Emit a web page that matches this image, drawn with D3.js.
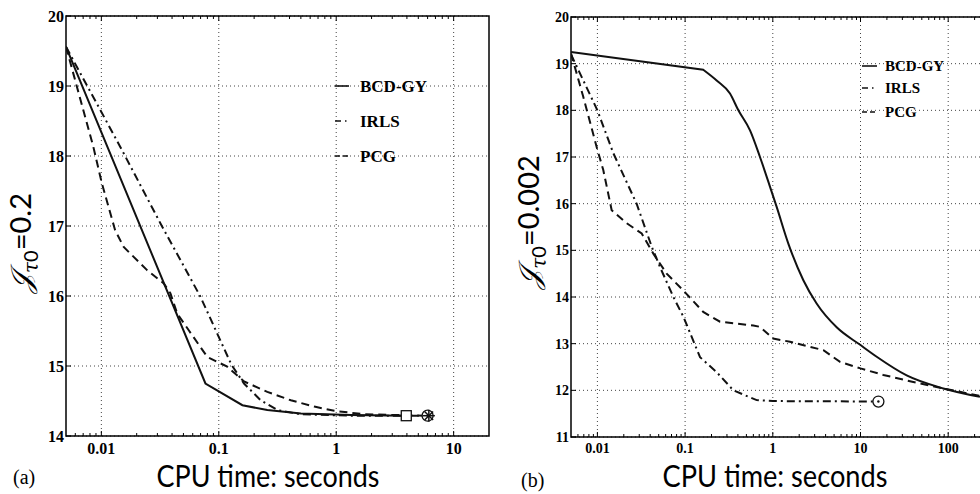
<!DOCTYPE html>
<html>
<head>
<meta charset="utf-8">
<script src="https://cdn.jsdelivr.net/npm/d3@7"></script>
<style>
  body { margin: 0; background: #fff; }
  svg { display: block; }
</style>
</head>
<body>
<div id="chart"></div>
<script>
// series names used in both panels
var seriesNames = ["BCD-GY", "IRLS", "PCG"];

// panel (a): tau0 = 0.2
var aBcdT  = [0.005, 0.077, 0.159, 0.259, 0.5, 1.34, 3.95];
var aBcdJ  = [19.56, 14.75, 14.44, 14.37, 14.32, 14.30, 14.29];
var aIrlsT = [0.005, 0.0145, 0.0318, 0.0698, 0.128, 0.164, 0.2275, 0.316, 0.5, 1.34, 6.0];
var aIrlsJ = [19.56, 18.13, 17.04, 15.99, 15.02, 14.75, 14.51, 14.37, 14.31, 14.29, 14.29];
var aPcgT  = [0.005, 0.00855, 0.0101, 0.0131, 0.0155, 0.0245, 0.034, 0.0387, 0.0442, 0.0555,
              0.0798, 0.118, 0.164, 0.259, 0.411, 0.65, 0.964, 1.74, 6.05];
var aPcgJ  = [19.56, 18.13, 17.61, 16.94, 16.70, 16.37, 16.18, 16.04, 15.75, 15.51,
              15.13, 14.99, 14.78, 14.63, 14.51, 14.42, 14.36, 14.31, 14.29];

// panel (b): tau0 = 0.002
var bBcdT  = [0.005, 0.161, 0.229, 0.325, 0.405, 0.55, 0.714, 0.93, 1.107, 1.5, 2.23, 3.16,
              5.35, 10, 15.3, 33.6, 87.9, 230];
var bBcdJ  = [19.25, 18.87, 18.64, 18.36, 18.0, 17.57, 17.0, 16.36, 15.93, 15.15, 14.36, 13.86,
              13.35, 12.97, 12.72, 12.32, 12.04, 11.86];
var bIrlsT = [0.005, 0.01, 0.0152, 0.028, 0.0416, 0.0518, 0.0735, 0.0955, 0.148, 0.229, 0.355,
              0.655, 1, 16];
var bIrlsJ = [19.2, 18.0, 17.08, 16.0, 15.08, 14.64, 14.0, 13.58, 12.71, 12.39, 12.0,
              11.79, 11.77, 11.76];
var bPcgT  = [0.005, 0.0069, 0.00982, 0.01167, 0.01455, 0.0216, 0.032, 0.0434, 0.0617, 0.0953,
              0.161, 0.25, 0.6, 0.714, 1.01, 1.57, 3.78, 5.84, 10, 18.2, 40, 88, 230];
var bPcgJ  = [19.22, 18.29, 17.21, 16.72, 15.86, 15.58, 15.36, 14.93, 14.50, 14.14,
              13.68, 13.47, 13.39, 13.36, 13.11, 13.04, 12.86, 12.61, 12.47, 12.33, 12.18, 12.04, 11.88];

// end markers [time, value]
var aMarkSquare = [3.95, 14.29];
var aMarkCircle = [6.0, 14.29];
var aMarkStar   = [6.15, 14.29];
var bMarkCircle = [16, 11.76];

// ticks
var aXTicks = [0.01, 0.1, 1, 10];
var bXTicks = [0.01, 0.1, 1, 10, 100];
var aYTicks = [14, 15, 16, 17, 18, 19, 20];
var bYTicks = [11, 12, 13, 14, 15, 16, 17, 18, 19, 20];

var W = 980, H = 494;
var svg = d3.select("#chart").append("svg").attr("width", W).attr("height", H);

var dashes = { "BCD-GY": null, "IRLS": "8,4,2,4", "PCG": "8,5" };

function drawPanel(cfg) {
  var g = svg.append("g");
  var x = d3.scaleLog().domain(cfg.xDomain).range([cfg.left, cfg.right]);
  var y = d3.scaleLinear().domain(cfg.yDomain).range([cfg.bottom, cfg.top]);

  var clipId = "clip-" + cfg.id;
  svg.append("clipPath").attr("id", clipId).append("rect")
    .attr("x", cfg.left).attr("y", cfg.top)
    .attr("width", cfg.right - cfg.left).attr("height", cfg.bottom - cfg.top);

  // dotted grid
  g.selectAll(".vg").data(cfg.xTicks).enter().append("line")
    .attr("x1", d => x(d)).attr("x2", d => x(d))
    .attr("y1", cfg.top).attr("y2", cfg.bottom)
    .attr("stroke", "#444").attr("stroke-width", 1).attr("stroke-dasharray", "1,3");
  g.selectAll(".hg").data(cfg.yTicks).enter().append("line")
    .attr("x1", cfg.left).attr("x2", cfg.right)
    .attr("y1", d => y(d)).attr("y2", d => y(d))
    .attr("stroke", "#444").attr("stroke-width", 1).attr("stroke-dasharray", "1,3");

  // log minor ticks on top and bottom, pointing in
  var minor = [];
  [0.001, 0.01, 0.1, 1, 10, 100, 1000].forEach(function(dec) {
    for (var k = 2; k <= 9; k++) {
      var v = dec * k;
      if (v > cfg.xDomain[0] && v < cfg.xDomain[1]) minor.push(v);
    }
  });
  [cfg.bottom, cfg.top].forEach(function(edge) {
    var dir = edge === cfg.bottom ? -1 : 1;
    g.selectAll(null).data(minor).enter().append("line")
      .attr("x1", d => x(d)).attr("x2", d => x(d))
      .attr("y1", edge).attr("y2", edge + dir * 3)
      .attr("stroke", "#000").attr("stroke-width", 1);
    g.selectAll(null).data(cfg.xTicks).enter().append("line")
      .attr("x1", d => x(d)).attr("x2", d => x(d))
      .attr("y1", edge).attr("y2", edge + dir * 5)
      .attr("stroke", "#000").attr("stroke-width", 1);
  });
  g.selectAll(null).data(cfg.yTicks).enter().append("line")
    .attr("x1", cfg.left).attr("x2", cfg.left + 5)
    .attr("y1", d => y(d)).attr("y2", d => y(d))
    .attr("stroke", "#000").attr("stroke-width", 1);

  // frame
  g.append("rect")
    .attr("x", cfg.left).attr("y", cfg.top)
    .attr("width", cfg.right - cfg.left).attr("height", cfg.bottom - cfg.top)
    .attr("fill", "none").attr("stroke", "#000").attr("stroke-width", 1.5);

  // tick labels
  g.selectAll(null).data(cfg.xTicks).enter().append("text")
    .attr("x", d => x(d)).attr("y", cfg.bottom + cfg.tickFont + 2)
    .attr("text-anchor", "middle")
    .style("font-family", "'Liberation Serif', serif").style("font-weight", "bold")
    .style("font-size", cfg.tickFont + "px")
    .text(d => d3.format("~g")(d));
  g.selectAll(null).data(cfg.yTicks).enter().append("text")
    .attr("x", cfg.left - 2).attr("y", d => y(d)).attr("dy", "0.35em")
    .attr("text-anchor", "end")
    .style("font-family", "'Liberation Serif', serif").style("font-weight", "bold")
    .style("font-size", cfg.tickFont + "px")
    .text(d => d);

  // lines; a smooth series keeps its first leg straight, like the reference
  var lg = g.append("g").attr("clip-path", "url(#" + clipId + ")");
  cfg.series.forEach(function(s) {
    var pts = d3.zip(s.t, s.j);
    var straight = d3.line().x(d => x(d[0])).y(d => y(d[1]));
    var dStr;
    if (s.smooth) {
      var curved = d3.line().x(d => x(d[0])).y(d => y(d[1])).curve(d3.curveMonotoneX);
      dStr = straight(pts.slice(0, 2)) + curved(pts.slice(1)).replace(/^M/, "L");
    } else {
      dStr = straight(pts);
    }
    lg.append("path")
      .attr("d", dStr)
      .attr("fill", "none").attr("stroke", "#111").attr("stroke-width", 2)
      .attr("stroke-dasharray", dashes[s.name]);
  });

  // markers
  if (cfg.square) {
    g.append("rect")
      .attr("x", x(cfg.square[0]) - 5).attr("y", y(cfg.square[1]) - 5)
      .attr("width", 10).attr("height", 10)
      .attr("fill", "#fff").attr("stroke", "#111").attr("stroke-width", 1.3);
  }
  if (cfg.circle) {
    var cx = x(cfg.circle[0]), cy = y(cfg.circle[1]);
    g.append("circle").attr("cx", cx).attr("cy", cy).attr("r", 5.5)
      .attr("fill", "#fff").attr("stroke", "#111").attr("stroke-width", 1.3);
    g.append("circle").attr("cx", cx).attr("cy", cy).attr("r", 1.2).attr("fill", "#111");
  }
  if (cfg.star) {
    var sx = x(cfg.star[0]), sy = y(cfg.star[1]);
    [0, 45, 90, 135].forEach(function(a) {
      var r = a * Math.PI / 180;
      g.append("line")
        .attr("x1", sx - 6 * Math.cos(r)).attr("y1", sy - 6 * Math.sin(r))
        .attr("x2", sx + 6 * Math.cos(r)).attr("y2", sy + 6 * Math.sin(r))
        .attr("stroke", "#111").attr("stroke-width", 1.5);
    });
  }

  // legend
  cfg.series.forEach(function(s, i) {
    var ly = cfg.legend.y[i];
    g.append("line")
      .attr("x1", cfg.legend.x).attr("x2", cfg.legend.x + cfg.legend.len)
      .attr("y1", ly).attr("y2", ly)
      .attr("stroke", "#111").attr("stroke-width", 1.6)
      .attr("stroke-dasharray", s.name === "IRLS" ? "6,4,1.5,4" : (s.name === "PCG" ? "5,3" : null));
    g.append("text")
      .attr("x", cfg.legend.x + cfg.legend.len + cfg.legend.gap).attr("y", ly).attr("dy", "0.35em")
      .style("font-family", "'Liberation Serif', serif").style("font-weight", "bold")
      .style("font-size", cfg.legend.font + "px")
      .text(s.name);
  });

  // axis titles
  g.append("text")
    .attr("x", cfg.xTitle[0]).attr("y", cfg.xTitle[1])
    .attr("text-anchor", "middle")
    .attr("textLength", cfg.xTitle[2]).attr("lengthAdjust", "spacingAndGlyphs")
    .style("font-family", "Lato, 'DejaVu Sans', sans-serif")
    .style("font-size", "30px")
    .text("CPU time: seconds");

  var yt = g.append("text")
    .attr("transform", "translate(" + cfg.yTitle[0] + "," + cfg.yTitle[1] + ") rotate(-90)")
    .attr("text-anchor", "middle")
    .style("font-size", "29px");
  yt.append("tspan").style("font-family", "'DejaVu Serif', serif").style("font-style", "italic").text("\u{1D4A5}");
  yt.append("tspan").attr("dy", 7).style("font-family", "'DejaVu Serif', serif").style("font-style", "italic")
    .style("font-size", "20px").text("\u03C4");
  yt.append("tspan").style("font-family", "Lato, sans-serif").style("font-size", "20px").text("0");
  yt.append("tspan").attr("dy", -7).style("font-family", "Lato, sans-serif").text("=" + cfg.tau);

  g.append("text")
    .attr("x", cfg.panelTag[0]).attr("y", cfg.panelTag[1])
    .style("font-family", "'Liberation Serif', serif").style("font-size", "20px")
    .text(cfg.tag);
}

drawPanel({
  id: "a", tag: "(a)", tau: "0.2",
  left: 66, right: 489, top: 16, bottom: 436,
  xDomain: [0.005, 20], yDomain: [14, 20],
  xTicks: aXTicks, yTicks: aYTicks, tickFont: 16,
  series: [
    { name: seriesNames[0], t: aBcdT, j: aBcdJ },
    { name: seriesNames[1], t: aIrlsT, j: aIrlsJ },
    { name: seriesNames[2], t: aPcgT, j: aPcgJ }
  ],
  square: aMarkSquare, circle: aMarkCircle, star: aMarkStar,
  legend: { x: 335, len: 14, gap: 11, font: 17, y: [86, 121, 156] },
  xTitle: [268, 487, 223], yTitle: [31, 243], panelTag: [13, 484]
});

drawPanel({
  id: "b", tag: "(b)", tau: "0.002",
  left: 571, right: 571 + 87.7 * Math.log10(400 / 0.005), top: 17, bottom: 437,
  xDomain: [0.005, 400], yDomain: [11, 20],
  xTicks: bXTicks, yTicks: bYTicks, tickFont: 14,
  series: [
    { name: seriesNames[0], t: bBcdT, j: bBcdJ, smooth: true },
    { name: seriesNames[1], t: bIrlsT, j: bIrlsJ },
    { name: seriesNames[2], t: bPcgT, j: bPcgJ }
  ],
  circle: bMarkCircle,
  legend: { x: 862, len: 15, gap: 8, font: 15, y: [66, 88, 112] },
  xTitle: [775, 487, 225], yTitle: [539, 222], panelTag: [521, 487]
});
</script>
</body>
</html>
